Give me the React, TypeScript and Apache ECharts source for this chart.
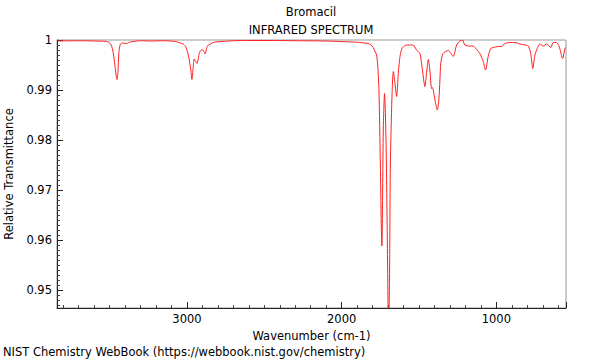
import React, { useEffect, useRef } from 'react';
import * as echarts from 'echarts';

const chemicalName = 'Bromacil';
const chartKind = 'INFRARED SPECTRUM';
const xAxisTitle = 'Wavenumber (cm-1)';
const yAxisTitle = 'Relative Transmittance';
const footerText = 'NIST Chemistry WebBook (https://webbook.nist.gov/chemistry)';

const X_MIN = 550;
const X_MAX = 3840;
const Y_MIN = 0.9464;
const Y_MAX = 1.0;

const xTickLabels = [1000, 2000, 3000];
const yTickLabels = [0.95, 0.96, 0.97, 0.98, 0.99, 1.0];

const wavenumbers = [
  3840, 3700, 3600, 3520, 3495, 3480, 3468, 3458, 3452, 3446,
  3440, 3430, 3417, 3390, 3366, 3300, 3237, 3150, 3075, 3043,
  3024, 3005, 2990, 2975, 2968, 2960, 2953, 2945, 2935, 2919,
  2903, 2892, 2882, 2872, 2861, 2837, 2817, 2700, 2592, 2450,
  2269, 2100, 2011, 1930, 1882, 1830, 1810, 1796, 1786, 1774,
  1765, 1759, 1750, 1744, 1740, 1735, 1731, 1723, 1717, 1711,
  1703, 1697, 1690, 1685, 1675, 1666, 1656, 1645, 1634, 1623,
  1610, 1590, 1572, 1539, 1516, 1494, 1478, 1462, 1451, 1440,
  1430, 1419, 1414, 1408, 1397, 1382, 1372, 1365, 1359, 1344,
  1311, 1279, 1257, 1236, 1219, 1204, 1172, 1150, 1128, 1107,
  1085, 1070, 1053, 1037, 1020, 988, 966, 945, 912, 880,
  848, 815, 794, 778, 765, 751, 736, 719, 697, 675,
  648, 633, 611, 594, 572, 557, 550,
];

const transmittance = [
  0.9998, 0.99985, 0.9998, 0.9997, 0.9993, 0.998, 0.9955, 0.993, 0.9921, 0.9935,
  0.9975, 0.9992, 0.9994, 0.9993, 0.9996, 0.99985, 0.9998, 0.99985, 0.9997, 0.9994,
  0.9992, 0.9985, 0.9968, 0.994, 0.9921, 0.9945, 0.9962, 0.9958, 0.9953, 0.9975,
  0.9981, 0.9978, 0.9972, 0.9985, 0.999, 0.9994, 0.9996, 0.99985, 0.9999, 0.9999,
  0.99985, 0.9998, 0.9997, 0.9996, 0.9995, 0.9993, 0.999, 0.9985, 0.9978, 0.997,
  0.994, 0.99, 0.9754, 0.963, 0.9588, 0.97, 0.982, 0.9893, 0.985, 0.9754,
  0.955, 0.94, 0.955, 0.9754, 0.9885, 0.9937, 0.9915, 0.9887, 0.9933, 0.9967,
  0.9983, 0.9989, 0.999, 0.999, 0.998, 0.9973, 0.994, 0.9907, 0.9935, 0.9961,
  0.994, 0.9903, 0.9905, 0.99, 0.988, 0.986, 0.988, 0.992, 0.9955, 0.9973,
  0.9979, 0.9967, 0.999, 0.9998, 1.0, 0.999, 0.9988, 0.9988, 0.9981, 0.9973,
  0.9957, 0.994, 0.9967, 0.9983, 0.9985, 0.9987, 0.9987, 0.9993, 0.9995, 0.9995,
  0.9992, 0.999, 0.9988, 0.9973, 0.9943, 0.997, 0.9983, 0.9992, 0.9988, 0.9992,
  0.9985, 0.9995, 0.9995, 0.9987, 0.9963, 0.9983, 0.9985,
];

const FONT = 'DejaVu Sans';
const FS = 11.5;

const isTick = (v: number, list: number[]) => list.some((t) => Math.abs(t - v) < 1e-6);

export default function App() {
  const ref = useRef<HTMLDivElement>(null);
  useEffect(() => {
    if (!ref.current) return;
    const chart = echarts.init(ref.current, undefined, { renderer: 'svg' });

    const data = wavenumbers.map((w, i) => [w, transmittance[i]]);

    chart.setOption({
      animation: false,
      grid: {
        left: 57, right: 34, top: 40, bottom: 52,
        outerBoundsMode: 'none', containLabel: false,
        show: true, borderColor: '#999', borderWidth: 1, backgroundColor: 'transparent',
      },
      graphic: [
        { type: 'text', x: 311, y: 12, style: { text: chemicalName, font: `${FS}px "${FONT}"`, fill: '#000', textAlign: 'center', textVerticalAlign: 'middle' } },
        { type: 'text', x: 311, y: 30, style: { text: chartKind, font: `${FS}px "${FONT}"`, fill: '#000', textAlign: 'center', textVerticalAlign: 'middle' } },
        { type: 'text', x: 3, y: 352, style: { text: footerText, font: `${FS}px "${FONT}"`, fill: '#000', textAlign: 'left', textVerticalAlign: 'middle' } },
      ],
      xAxis: {
        type: 'value', min: X_MIN, max: X_MAX, inverse: true, position: 'bottom',
        splitNumber: 3,
        name: xAxisTitle, nameLocation: 'middle', nameGap: 18,
        nameTextStyle: { fontFamily: FONT, fontSize: FS, color: '#000' },
        axisLine: { show: true, lineStyle: { color: '#222', width: 1 } },
        axisTick: { show: true, inside: true, length: 6, lineStyle: { color: '#222', width: 1 } },
        minorTick: { show: true, splitNumber: 10, length: 3, lineStyle: { color: '#444', width: 1 } },
        axisLabel: {
          fontFamily: FONT, fontSize: FS, color: '#000', margin: 5,
          showMinLabel: false, showMaxLabel: false,
          formatter: (v: number) => (isTick(v, xTickLabels) ? String(Math.round(v)) : ''),
        },
        splitLine: { show: false },
      },
      yAxis: {
        type: 'value', min: Y_MIN, max: Y_MAX, position: 'left',
        splitNumber: 5,
        name: yAxisTitle, nameLocation: 'middle', nameGap: 41,
        nameTextStyle: { fontFamily: FONT, fontSize: FS, color: '#000' },
        axisLine: { show: true, lineStyle: { color: '#222', width: 1 } },
        axisTick: { show: true, inside: true, length: 6, lineStyle: { color: '#222', width: 1 } },
        minorTick: { show: true, splitNumber: 10, length: 3, lineStyle: { color: '#444', width: 1 } },
        axisLabel: {
          fontFamily: FONT, fontSize: FS, color: '#000', margin: 5,
          showMinLabel: false,
          formatter: (v: number) => (isTick(v, yTickLabels) ? String(parseFloat(v.toFixed(3))) : ''),
        },
        splitLine: { show: false },
      },
      series: [
        {
          type: 'line', data,
          showSymbol: false, smooth: 0.25, clip: true,
          lineStyle: { color: '#ff2020', width: 1 },
        },
      ],
    });
    return () => chart.dispose();
  }, []);
  return <div ref={ref} style={{ width: 600, height: 360, position: 'absolute', left: 0, top: 0 }} />;
}
